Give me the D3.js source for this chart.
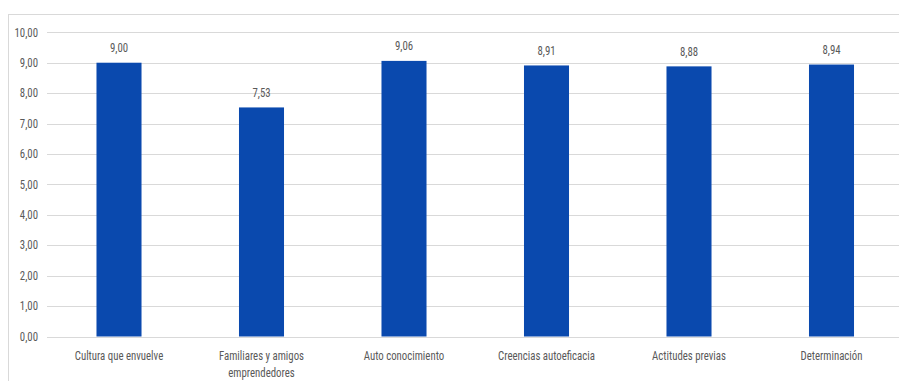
<!DOCTYPE html>
<html>
<head>
<meta charset="utf-8">
<script src="https://cdn.jsdelivr.net/npm/d3@7"></script>
<style>
html,body{margin:0;padding:0;background:#fff;}
svg{display:block;}
text{font-family:"Liberation Sans Narrow","Arial Narrow","Roboto Condensed","Liberation Sans",Arial,sans-serif;fill:#595959;}
</style>
</head>
<body>
<svg id="chart" width="899" height="381"></svg>
<script>
const categories = ["Cultura que envuelve", "Familiares y amigos\nemprendedores", "Auto conocimiento", "Creencias autoeficacia", "Actitudes previas", "Determinación"];
const values = [9.00, 7.53, 9.06, 8.91, 8.88, 8.94];
const yTicks = [0,1,2,3,4,5,6,7,8,9,10];

const svg = d3.select("#chart");
const SQ = 0.9; // horizontal compression to mimic narrow font

// chart border
svg.append("rect").attr("x", 8.5).attr("y", 14.5).attr("width", 1000).attr("height", 1000)
  .attr("fill", "none").attr("stroke", "#d9d9d9").attr("stroke-width", 1);

const x = d3.scaleBand().domain(categories).range([47.75, 902.75]).paddingInner(0.684).paddingOuter(0.342);
const y = d3.scaleLinear().domain([0, 10]).range([336.5, 32.3]);
const fmt = v => d3.format(".2f")(v).replace(".", ",");

function squeeze(sel) {
  sel.each(function() {
    const len = this.getComputedTextLength();
    if (len > 0) d3.select(this).attr("textLength", len * SQ).attr("lengthAdjust", "spacingAndGlyphs");
  });
}

// gridlines
svg.append("g").selectAll("line").data(yTicks).join("line")
  .attr("x1", 47).attr("x2", 899)
  .attr("y1", d => Math.round(y(d)) + 0.5).attr("y2", d => Math.round(y(d)) + 0.5)
  .attr("stroke", "#d9d9d9").attr("stroke-width", 1);

// y labels
svg.append("g").selectAll("text").data(yTicks).join("text")
  .attr("x", 38).attr("y", d => y(d)).attr("dy", "0.35em")
  .attr("text-anchor", "end").attr("font-size", 12)
  .text(d => fmt(d))
  .call(squeeze);

// bars
svg.append("g").selectAll("rect").data(values).join("rect")
  .attr("x", (d, i) => x(categories[i]))
  .attr("width", x.bandwidth())
  .attr("y", d => y(d))
  .attr("height", d => y(0) - y(d))
  .attr("fill", "#0a49ae");

// value labels
svg.append("g").selectAll("text").data(values).join("text")
  .attr("x", (d, i) => x(categories[i]) + x.bandwidth() / 2)
  .attr("y", d => y(d) - 10.5)
  .attr("text-anchor", "middle").attr("font-size", 12)
  .text(d => fmt(d))
  .call(squeeze);

// category labels
const cl = svg.append("g").selectAll("text").data(categories).join("text")
  .attr("x", d => x(d) + x.bandwidth() / 2)
  .attr("y", 360)
  .attr("text-anchor", "middle").attr("font-size", 12);
cl.each(function(d) {
  const t = d3.select(this);
  const cx = t.attr("x");
  d.split("\n").forEach((line, i) => {
    t.append("tspan").attr("x", cx).attr("y", 360 + i * 16.5).text(line);
  });
});
cl.selectAll("tspan").each(function() {
  const len = this.getComputedTextLength();
  if (len > 0) d3.select(this).attr("textLength", len * SQ).attr("lengthAdjust", "spacingAndGlyphs");
});
</script>
</body>
</html>
